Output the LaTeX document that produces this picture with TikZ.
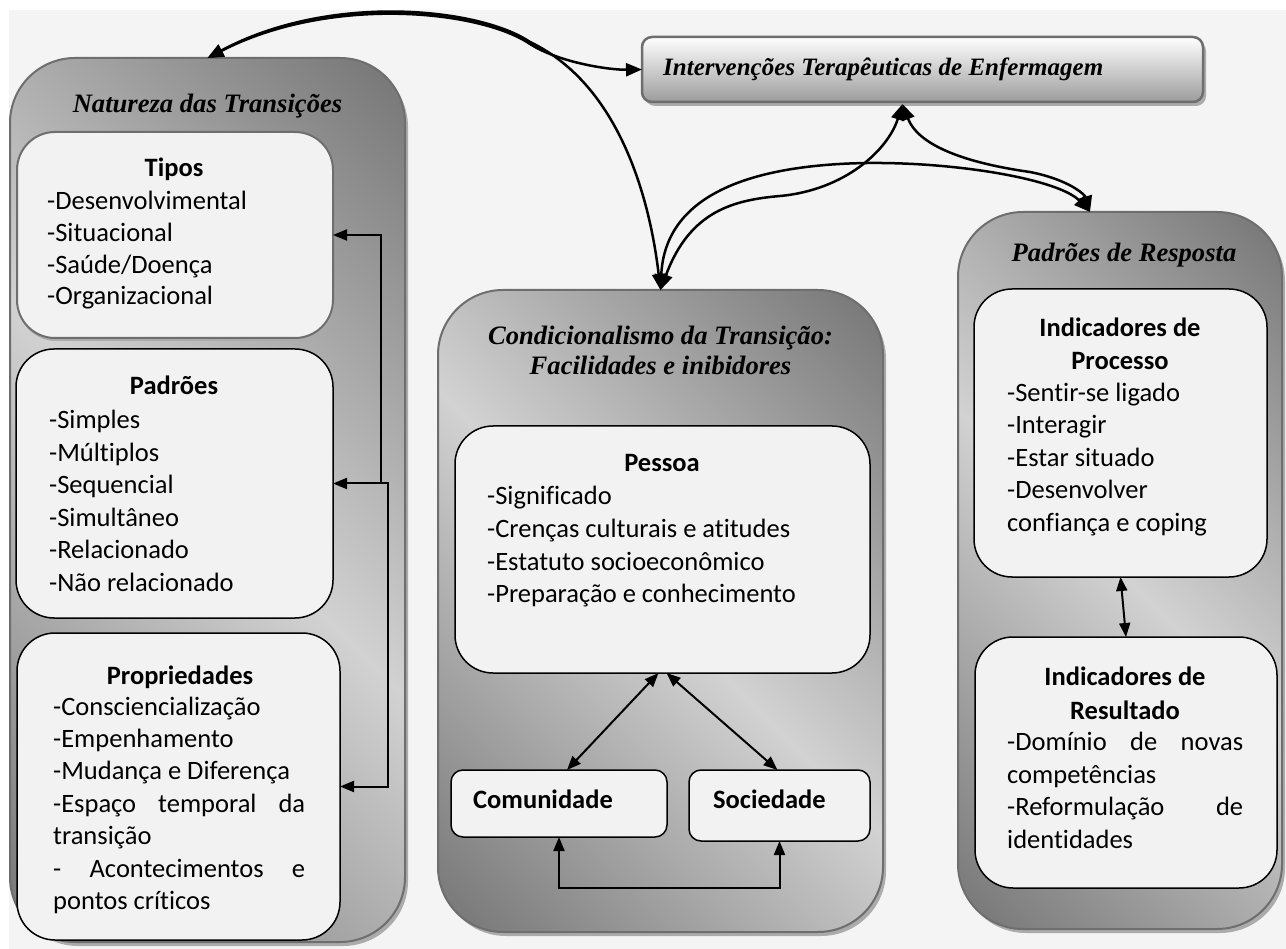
\documentclass[tikz,border=0pt]{standalone}
\usepackage{fontspec}
\setmainfont{Carlito}[Ligatures=NoCommon]
\newfontfamily\titlefont{Liberation Serif}
\usetikzlibrary{arrows.meta,shadows,calc}
\definecolor{bgc}{HTML}{F4F4F4}
\definecolor{pdark}{HTML}{686868}
\definecolor{plight}{HTML}{D2D2D2}
\definecolor{pborder}{HTML}{6E6E6E}
\definecolor{boxfill}{HTML}{F2F2F2}
\definecolor{shadowc}{HTML}{ABABAB}
\definecolor{ibottom}{HTML}{9C9C9C}
\pgfdeclareverticalshading{panelsh}{100bp}{color(0bp)=(pdark); color(10bp)=(pdark); color(50bp)=(plight); color(90bp)=(pdark); color(100bp)=(pdark)}
\begin{document}
\begin{tikzpicture}[x=1pt,y=-1pt,
  panel/.style={draw=pborder, line width=2pt, rounded corners=65pt,
    shading=panelsh, shading angle=-45,
    drop shadow={shadow xshift=3pt, shadow yshift=-4pt, fill=shadowc, opacity=1},
    anchor=north west, inner sep=0pt, outer sep=0pt},
  topbox/.style={draw=pborder, line width=2.5pt, rounded corners=10pt,
    top color=white, bottom color=ibottom,
    drop shadow={shadow xshift=3pt, shadow yshift=-4pt, fill=shadowc, opacity=1},
    anchor=north west, inner sep=0pt, outer sep=0pt},
  ibox/.style={draw=black, line width=1.5pt, fill=boxfill, rounded corners=38pt,
    anchor=north west, inner sep=0pt, outer sep=0pt},
  sbox/.style={ibox, rounded corners=12pt},
  body/.style={font=\fontsize{26.5}{32.4}\selectfont, anchor=base west, inner sep=0pt},
  head/.style={font=\fontsize{26.5}{32.4}\selectfont\bfseries, anchor=base, inner sep=0pt},
  ttl/.style={font=\titlefont\fontsize{26.6}{30}\selectfont\bfseries\itshape, anchor=base, inner sep=0pt},
  conn/.style={line width=2pt, {Triangle[length=14pt,width=11pt]}-{Triangle[length=14pt,width=11pt]}},
  connl/.style={line width=2pt, {Triangle[length=14pt,width=11pt]}-},
  curve/.style={line width=2.5pt, {Triangle[length=16pt,width=13pt]}-{Triangle[length=16pt,width=13pt]}},
]
\useasboundingbox (0,0) rectangle (1286,949);
\fill[bgc] (9,10) rectangle (1286,949);

% panels
\node[panel, minimum width=395pt, minimum height=884pt] (nat) at (10,58) {};
\node[panel, minimum width=445pt, minimum height=642pt] (cond) at (438,290) {};
\node[panel, minimum width=324pt, minimum height=717pt] (resp) at (958,212) {};
\node[topbox, minimum width=561pt, minimum height=65pt] (int) at (642,37) {};
\node[ttl, font=\titlefont\fontsize{25}{30}\selectfont\bfseries\itshape, anchor=base west] (intt) at (663,76) {Intervenções Terapêuticas de Enfermagem};

% Natureza das Transicoes
\node[ttl] (natt) at (207.5,113) {Natureza das Transições};
\node[ibox, draw=pborder, line width=2pt, minimum width=316pt, minimum height=206pt,
  drop shadow={shadow xshift=1pt, shadow yshift=-3pt, fill=shadowc, opacity=1}] (tipos) at (17,132) {};
\node[head] (tiposh) at (174,177) {Tipos};
\node[body] (t1) at (47,210) {-Desenvolvimental};
\node[body] (t2) at (47,242) {-Situacional};
\node[body] (t3) at (47,274) {-Saúde/Doença};
\node[body] (t4) at (47,305) {-Organizacional};

\node[ibox, minimum width=317pt, minimum height=269pt] (pad) at (16,349) {};
\node[head] (padh) at (174,395) {Padrões};
\node[body] (p1) at (49,429) {-Simples};
\node[body] (p2) at (49,461.4) {-Múltiplos};
\node[body] (p3) at (49,493.8) {-Sequencial};
\node[body] (p4) at (49,526.2) {-Simultâneo};
\node[body] (p5) at (49,558.6) {-Relacionado};
\node[body] (p6) at (49,591) {-Não relacionado};

\node[ibox, minimum width=323pt, minimum height=307pt] (prop) at (17,633) {};
\node[head] (proph) at (180,684) {Propriedades};
\node[body] (r1) at (53,715) {-Consciencialização};
\node[body] (r2) at (53,747) {-Empenhamento};
\node[body] (r3) at (53,779) {-Mudança e Diferença};
\node[body] (r4) at (53,812) {\hbox to 252pt{-Espaço\hfill temporal\hfill da}};
\node[body] (r5) at (53,844) {transição};
\node[body] (r6) at (53,877) {\hbox to 252pt{-\hfill Acontecimentos\hfill e}};
\node[body] (r7) at (53,909) {pontos críticos};

\draw[connl] (tipos.east) -| ($(pad.east)+(48,0)$);
\draw[conn] (pad.east) -- ++(55,0) |- (prop.east);

% Condicionalismo
\node[ttl] (condt1) at (660.5,345) {Condicionalismo da Transição:};
\node[ttl] (condt2) at (660.5,375) {Facilidades e inibidores};
\node[ibox, minimum width=415pt, minimum height=247pt] (pes) at (455,426) {};
\node[head] (pesh) at (662,472) {Pessoa};
\node[body] (s1) at (487,505) {-Significado};
\node[body] (s2) at (487,537) {-Crenças culturais e atitudes};
\node[body] (s3) at (487,570) {-Estatuto socioeconômico};
\node[body] (s4) at (487,602) {-Preparação e conhecimento};
\node[sbox, minimum width=216pt, minimum height=67pt] (com) at (451,770) {};
\node[head, anchor=base west] (comt) at (473,808) {Comunidade};
\node[sbox, minimum width=181pt, minimum height=71pt] (soc) at (689,770) {};
\node[head, anchor=base west] (soct) at (713,808) {Sociedade};
\draw[conn] ($(pes.south)+(-4,0)$) -- ($(com.north)+(8,0)$);
\draw[conn] ($(pes.south)+(4,0)$) -- ($(soc.north)+(-2,0)$);
\draw[conn] (com.south) -- ++(0,51) -| (soc.south);

% Padroes de Resposta
\node[ttl] (respt) at (1124,262) {Padrões de Resposta};
\node[ibox, minimum width=293pt, minimum height=288pt] (proc) at (974,289) {};
\node[head] (proch1) at (1120,337) {Indicadores de};
\node[head] (proch2) at (1120,370) {Processo};
\node[body] (q1) at (1007,402) {-Sentir-se ligado};
\node[body] (q2) at (1007,434) {-Interagir};
\node[body] (q3) at (1007,467) {-Estar situado};
\node[body] (q4) at (1007,499) {-Desenvolver};
\node[body] (q5) at (1007,532) {confiança e coping};
\node[ibox, minimum width=302pt, minimum height=251pt] (res) at (975,637) {};
\node[head] (resh1) at (1125,685) {Indicadores de};
\node[head] (resh2) at (1125,719) {Resultado};
\node[body] (u1) at (1007,750) {\hbox to 236pt{-Domínio\hfill de\hfill novas}};
\node[body] (u2) at (1007,783) {competências};
\node[body] (u3) at (1007,815) {\hbox to 236pt{-Reformulação\hfill de}};
\node[body] (u4) at (1007,848) {identidades};
\draw[conn] (proc.south) -- (res.north);

% curved connectors
\coordinate (intb) at ($(int.south)+(-20,2)$);
\coordinate (respn) at ($(resp.north)+(-30,0)$);
\draw[curve] (nat.north) .. controls (330,-5) and (480,10) .. (530,44) .. controls (560,63) and (610,70) .. (int.west);
\draw[curve] (nat.north) .. controls (330,-8) and (480,8) .. (530,42) .. controls (620,85) and (650,200) .. (cond.north);
\draw[curve] (cond.north) .. controls (690,210) and (735,200) .. (780,196) .. controls (845,190) and (888,150) .. (intb);
\draw[curve] (cond.north) .. controls (665,200) and (740,165) .. (867,163) .. controls (960,162) and (1060,180) .. (respn);
\draw[curve] (intb) .. controls (920,150) and (980,165) .. (1030,172) .. controls (1070,180) and (1085,195) .. (respn);
\end{tikzpicture}
\end{document}
